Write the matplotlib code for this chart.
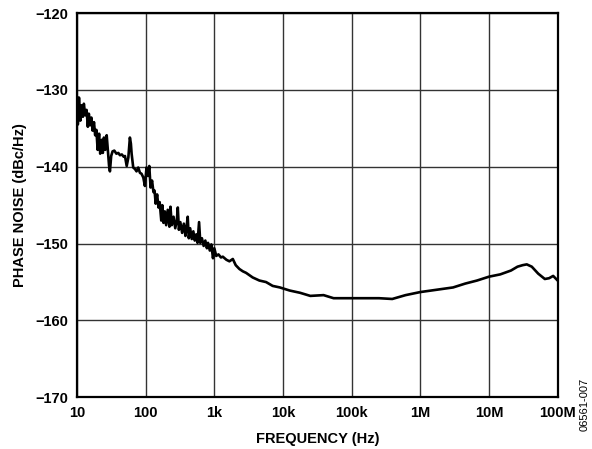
import matplotlib.pyplot as plt

# values (Hz, dBc/Hz); low end follows the noisy band
freq_hz = [10, 10.3, 10.7, 11.2, 11.7, 12.2, 12.6, 13.2, 13.8, 14.4,
           14.9, 15.5, 16.2, 16.9, 17.7, 18.4, 19.2, 20.0, 21.0, 21.8,
           22.9, 23.8, 24.7, 25.8, 27.1, 28.0, 29.3, 30.2, 31.5, 33.0,
           35.0, 37.5, 40, 42.3, 45, 48, 50, 53, 56, 59,
           61, 62.5, 66, 70, 73.7, 78, 82.7, 87, 92.5, 97.6,
           103, 108, 113, 118, 124, 130, 135, 140, 147, 154,
           160, 169, 175, 182, 190, 199, 210, 222, 230, 240,
           255, 270, 285, 294, 305, 320, 340, 360, 380, 395,
           410, 425, 445, 470, 495, 520, 546, 570, 600, 625,
           660, 700, 740, 780, 810, 860, 905, 957, 1000, 1066,
           1150, 1250, 1330, 1500, 1660, 1860, 2050, 2320, 2600, 2900,
           3620, 4530, 5670, 7080, 9000, 12500, 17800, 25000, 39000, 54600,
           100e3, 160e3, 250e3, 390e3, 610e3, 1e6, 1.73e6, 3.0e6, 4.5e6, 6.7e6,
           10e6, 14.6e6, 20.9e6, 26e6, 31e6, 35.5e6, 42e6, 52e6, 65e6, 75e6,
           86e6, 100e6]
noise_dbc = [-131.0, -134.5, -131.0, -134.0, -132.0, -133.5, -131.8, -133.3, -132.6, -134.8,
             -133.1, -134.6, -133.6, -135.3, -134.2, -135.9, -135.2, -137.8, -135.7, -138.3,
             -136.5, -138.2, -136.2, -137.8, -135.9, -137.6, -139.8, -140.6, -138.6, -138.0,
             -137.9, -138.3, -138.2, -138.5, -138.4, -138.7, -138.6, -139.9, -138.8, -136.2,
             -137.0, -138.3, -140.1, -140.3, -140.6, -140.1, -140.8, -140.9, -141.4, -142.5,
             -140.1, -141.2, -139.9, -142.7, -141.8, -143.3, -143.1, -144.8, -143.6, -145.3,
             -144.6, -147.0, -145.0, -147.3, -145.8, -147.6, -145.6, -147.8, -145.2, -147.6,
             -146.5, -148.0, -146.9, -145.3, -148.2, -147.2, -148.6, -147.4, -149.0, -147.8,
             -146.5, -149.3, -148.0, -149.4, -148.4, -149.6, -148.8, -149.9, -147.2, -149.9,
             -149.3, -150.3, -149.6, -150.6, -149.9, -150.9, -150.1, -151.9, -150.6, -151.6,
             -151.4, -151.8, -151.7, -152.1, -152.3, -152.0, -152.8, -153.3, -153.6, -153.8,
             -154.4, -154.8, -155.0, -155.5, -155.7, -156.1, -156.4, -156.8, -156.7, -157.1,
             -157.1, -157.1, -157.1, -157.2, -156.7, -156.3, -156.0, -155.7, -155.2, -154.8,
             -154.3, -154.0, -153.5, -153.0, -152.8, -152.7, -153.0, -153.9, -154.6, -154.5,
             -154.2, -154.8]

xticks = [10, 100, 1e3, 1e4, 1e5, 1e6, 1e7, 1e8]
xtick_labels = ['10', '100', '1k', '10k', '100k', '1M', '10M', '100M']
yticks = [-170, -160, -150, -140, -130, -120]

plt.rcParams['font.family'] = ['Liberation Sans', 'DejaVu Sans']

fig = plt.figure(figsize=(5.92, 4.49), dpi=100)
ax = fig.add_axes([0.130, 0.115, 0.812, 0.856])

ax.plot(freq_hz, noise_dbc, color='black', linewidth=1.9,
        solid_joinstyle='round')

ax.set_xscale('log')
ax.set_xlim(10, 1e8)
ax.set_ylim(-170, -120)
ax.set_xticks(xticks)
ax.set_xticklabels(xtick_labels)
ax.minorticks_off()
ax.set_yticks(yticks)
ax.set_yticklabels(['\u2212' + str(abs(v)) for v in yticks])

ax.grid(True, color='#333333', linewidth=1.0)
ax.tick_params(length=0, pad=6, labelsize=10.5)
for lab in ax.get_xticklabels() + ax.get_yticklabels():
    lab.set_fontweight('bold')
for s in ax.spines.values():
    s.set_linewidth(1.6)

ax.set_xlabel('FREQUENCY (Hz)', fontsize=10.5, fontweight='bold', labelpad=9)
ax.set_ylabel('PHASE NOISE (dBc/Hz)', fontsize=10.5, fontweight='bold', labelpad=6)

fig.text(0.988, 0.10, '06561-007', rotation=90, fontsize=8, ha='center', va='center')

fig.savefig('out.png', dpi=100)
